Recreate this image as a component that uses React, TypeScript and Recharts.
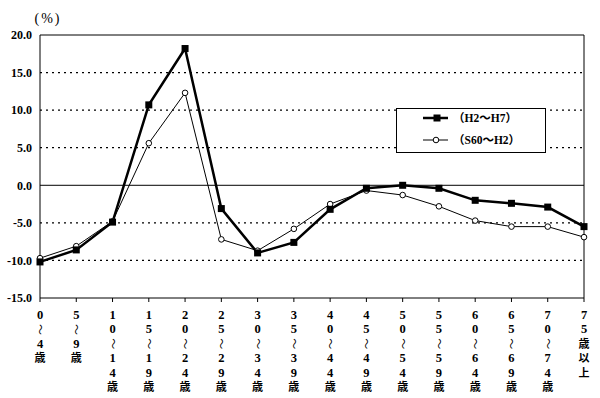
import React from 'react';
import { LineChart, Line, XAxis, YAxis, ReferenceLine, Legend } from 'recharts';

const categories = ['0～4歳', '5～9歳', '10～14歳', '15～19歳', '20～24歳', '25～29歳', '30～34歳', '35～39歳', '40～44歳', '45～49歳', '50～54歳', '55～59歳', '60～64歳', '65～69歳', '70～74歳', '75歳以上'];
const seriesH2H7 = [-10.2, -8.6, -4.9, 10.7, 18.2, -3.1, -9.0, -7.6, -3.2, -0.4, 0.0, -0.4, -2.0, -2.4, -2.9, -5.5];
const seriesS60H2 = [-9.7, -8.1, -4.8, 5.6, 12.3, -7.2, -8.7, -5.8, -2.5, -0.7, -1.3, -2.8, -4.7, -5.5, -5.5, -6.9];
const yTicks = [-15, -10, -5, 0, 5, 10, 15, 20];
const dottedLevels = [15, 10, 5, -5, -10];
const nameH2H7 = '（H2～H7）';
const nameS60H2 = '（S60～H2）';
const unitLabel = '(%)';

const data = categories.map((c, i) => ({ cat: c, a: seriesH2H7[i], b: seriesS60H2[i] }));

const SERIF = '"Liberation Serif", "DejaVu Serif", "Noto Sans CJK JP", serif';
const CJK = '"Liberation Serif", "Noto Sans CJK JP", serif';

const XTick = (props: any) => {
  const { x, y, payload } = props;
  const chars = Array.from(String(payload.value));
  return (
    <g>
      {chars.map((c, i) => {
        const cy = y + 11 + i * 14.4;
        if (c === '～') {
          return (
            <text key={i} transform={`translate(${x},${cy}) rotate(90)`} textAnchor="middle" dominantBaseline="central" fontSize={11} fontFamily={CJK} fill="#000">～</text>
          );
        }
        const isNum = /[0-9]/.test(c);
        return (
          <text key={i} x={x} y={cy} textAnchor="middle" dominantBaseline="central" fontSize={isNum ? 12.5 : 11} fontWeight="bold" fontFamily={CJK} fill="#000">{c}</text>
        );
      })}
    </g>
  );
};

const YLabel = (props: any) => {
  const vb = props.viewBox || { x: 0, y: 35, width: 40 };
  return (
    <text x={vb.x + vb.width + 8} y={vb.y - 12} textAnchor="middle" fontSize={14} fontFamily={SERIF} letterSpacing={2} fill="#000">{unitLabel}</text>
  );
};

const SquareDot = (p: any) => {
  if (p.cx == null || p.cy == null) return <g key={p.index} />;
  return <rect key={p.index} x={p.cx - 3.5} y={p.cy - 3.5} width={7} height={7} fill="#000" />;
};

const CircleDot = (p: any) => {
  if (p.cx == null || p.cy == null) return <g key={p.index} />;
  return <circle key={p.index} cx={p.cx} cy={p.cy} r={2.8} fill="#fff" stroke="#000" strokeWidth={1} />;
};

const LegendBox = () => (
  <svg width={150} height={45} style={{ display: 'block' }}>
    <rect x={0.5} y={0.5} width={149} height={44} fill="#fff" stroke="#000" strokeWidth={1} />
    <line x1={27} y1={10} x2={52} y2={10} stroke="#000" strokeWidth={2.5} />
    <rect x={37.5} y={6.5} width={7} height={7} fill="#000" />
    <text x={57} y={10} dominantBaseline="central" fontSize={11.5} fontWeight="bold" fontFamily={CJK} fill="#000">{nameH2H7}</text>
    <line x1={27} y1={32} x2={52} y2={32} stroke="#000" strokeWidth={1} />
    <circle cx={40} cy={32} r={2.8} fill="#fff" stroke="#000" strokeWidth={1} />
    <text x={57} y={32} dominantBaseline="central" fontSize={11.5} fontWeight="bold" fontFamily={CJK} fill="#000">{nameS60H2}</text>
  </svg>
);

export default function App() {
  return (
    <div style={{ position: 'absolute', left: 0, top: 0, background: '#fff' }}>
      <LineChart width={600} height={398} data={data} margin={{ top: 35, right: 16, bottom: 0, left: 0 }}>
        <XAxis
          dataKey="cat"
          scale="point"
          padding={{ left: 0, right: 0 }}
          height={100}
          interval={0}
          axisLine={{ stroke: '#000', strokeWidth: 1 }}
          tickLine={{ stroke: '#000' }}
          tickSize={4}
          tick={<XTick />}
        />
        <YAxis
          width={40}
          domain={[-15, 20]}
          ticks={yTicks}
          interval={0}
          allowDataOverflow
          axisLine={{ stroke: '#000', strokeWidth: 1 }}
          tickLine={false}
          tickFormatter={(v: number) => v.toFixed(1)}
          tick={{ fontSize: 12, fontWeight: 'bold', fill: '#000', fontFamily: SERIF }}
          label={<YLabel />}
        />
        {dottedLevels.map((v) => (
          <ReferenceLine key={v} y={v} stroke="#000" strokeWidth={1.3} strokeDasharray="2 4" />
        ))}
        <ReferenceLine y={0} stroke="#000" strokeWidth={1} />
        <ReferenceLine y={20} stroke="#000" strokeWidth={1} />
        <ReferenceLine x={categories[categories.length - 1]} stroke="#000" strokeWidth={1} />
        <Legend
          layout="horizontal"
          verticalAlign="middle"
          align="center"
          content={<LegendBox />}
          wrapperStyle={{ position: 'absolute', left: 396, top: 108, width: 150, height: 45 }}
        />
        <Line dataKey="b" name={nameS60H2} stroke="#000" strokeWidth={1} dot={CircleDot} isAnimationActive={false} />
        <Line dataKey="a" name={nameH2H7} stroke="#000" strokeWidth={2.5} dot={SquareDot} isAnimationActive={false} />
      </LineChart>
    </div>
  );
}
